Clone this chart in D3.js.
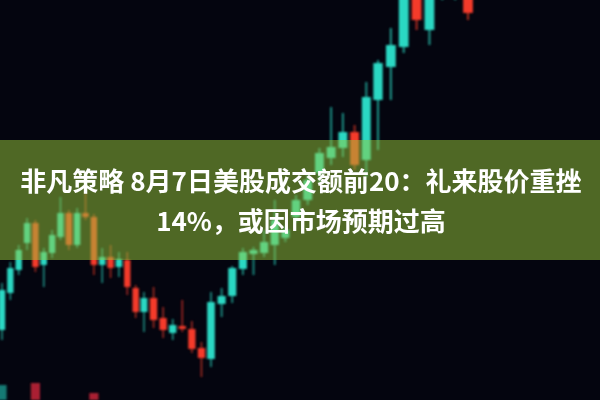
<!DOCTYPE html>
<html><head><meta charset="utf-8">
<script src="https://cdn.jsdelivr.net/npm/d3@7"></script>
<style>
html,body{margin:0;padding:0;background:#04050f;}
svg{display:block;}
</style></head>
<body>
<svg id="chart" width="600" height="400"></svg>
<script>
// ---- data (price units, higher = up) ----
const idx   = d3.range(47);
const open  = [ 70,107,130,157,177,135,147,163,187,155,187,183,135,143,133,140,112,88,102,82,67,74,71,52,41,96,104,131,146,147,155,162,183,200,227,242,252,268,240,300,333,353,410,370,440,430,410];
const close = [110,132,150,177,133,148,165,187,155,187,183,135,143,132,141,113, 88,102,80,70,75,71,51,42,98,104,132,148,150,158,180,170,200,220,247,253,268,235,303,337,355,420,380,407,480,470,387];
const high  = [117,138,155,182,180,152,170,203,190,192,207,186,152,155,148,148,115,108,113,93,81,100,79,58,108,112,134,152,153,170,200,174,205,225,252,293,287,275,318,340,372,430,420,440,490,480,420];
const low   = [ 60,100,125,150,128,113,142,160,150,152,180,125,117,122,123,105, 82,68,72,62,60,68,47,23,33,83,97,125,125,143,135,158,178,195,217,235,243,230,223,250,300,347,370,355,400,400,380];
const vol   = [ 15,0,0,0,17,0,0,0,0,0,0,7,0,0,0,0,0,0,0,0,0,0,0,0,0,0,0,0,0,0,0,0,0,0,0,0,0,0,0,0,0,0,0,0,0,0,0];
const titleLines = ["非凡策略 8月7日美股成交额前20：礼来股价重挫", "14%，或因市场预期过高"];

const W = 600, H = 400;
const svg = d3.select("#chart");

// perspective-like piecewise x scale
const x = d3.scaleLinear().domain([0,17,24,32,39,46]).range([2,144,211,296,378,468]);
const y = d3.scaleLinear().domain([0,400]).range([400,0]);
const v = d3.scaleLinear().domain([0,40]).range([H, H-40]);

const up = "#2bd8c3", down = "#f43a2a";

svg.append("rect").attr("width",W).attr("height",H).attr("fill","#04050f");

const defs = svg.append("defs");
defs.append("filter").attr("id","soft").attr("x","-20%").attr("y","-20%").attr("width","140%").attr("height","140%")
  .append("feGaussianBlur").attr("stdDeviation",0.85);

const data = idx.map(i => ({i, o:open[i], c:close[i], h:high[i], l:low[i], v:vol[i]}));
const step = i => x(i+0.5) - x(i-0.5);

const g = svg.append("g").attr("filter","url(#soft)");

g.selectAll("line.wick").data(data).join("line")
  .attr("class","wick")
  .attr("x1",d=>x(d.i)).attr("x2",d=>x(d.i))
  .attr("y1",d=>y(d.h)).attr("y2",d=>y(d.l))
  .attr("stroke",d=>d.c>=d.o?up:down)
  .attr("stroke-width",d=>Math.max(1.5, step(d.i)*0.16))
  .attr("stroke-opacity",0.7);

g.selectAll("rect.body").data(data).join("rect")
  .attr("class","body")
  .attr("x",d=>x(d.i)-step(d.i)*0.38)
  .attr("width",d=>step(d.i)*0.76)
  .attr("y",d=>y(Math.max(d.o,d.c)))
  .attr("height",d=>Math.max(2, Math.abs(y(d.o)-y(d.c))))
  .attr("fill",d=>d.c>=d.o?up:down);

g.selectAll("rect.vol").data(data.filter(d=>d.v>0)).join("rect")
  .attr("class","vol")
  .attr("x",d=>x(d.i)-step(d.i)*0.55)
  .attr("width",d=>step(d.i)*1.1)
  .attr("y",d=>v(d.v))
  .attr("height",d=>H - v(d.v))
  .attr("fill",d=>d.c>=d.o?"#1a8f86":"#c8233a")
  .attr("opacity",0.85);

// banner overlay
svg.append("rect").attr("x",0).attr("y",140).attr("width",W).attr("height",120)
  .attr("fill","#99cc3c").attr("fill-opacity",0.5);

svg.selectAll("text.title").data(titleLines).join("text")
  .attr("class","title")
  .attr("x",301)
  .attr("y",(d,i)=>191 + i*40)
  .attr("text-anchor","middle")
  .attr("fill","#ffffff")
  .attr("font-family","'Noto Sans CJK SC','Noto Sans',sans-serif")
  .attr("font-weight","bold")
  .attr("font-size",26)
  .text(d=>d);
</script>
</body></html>
